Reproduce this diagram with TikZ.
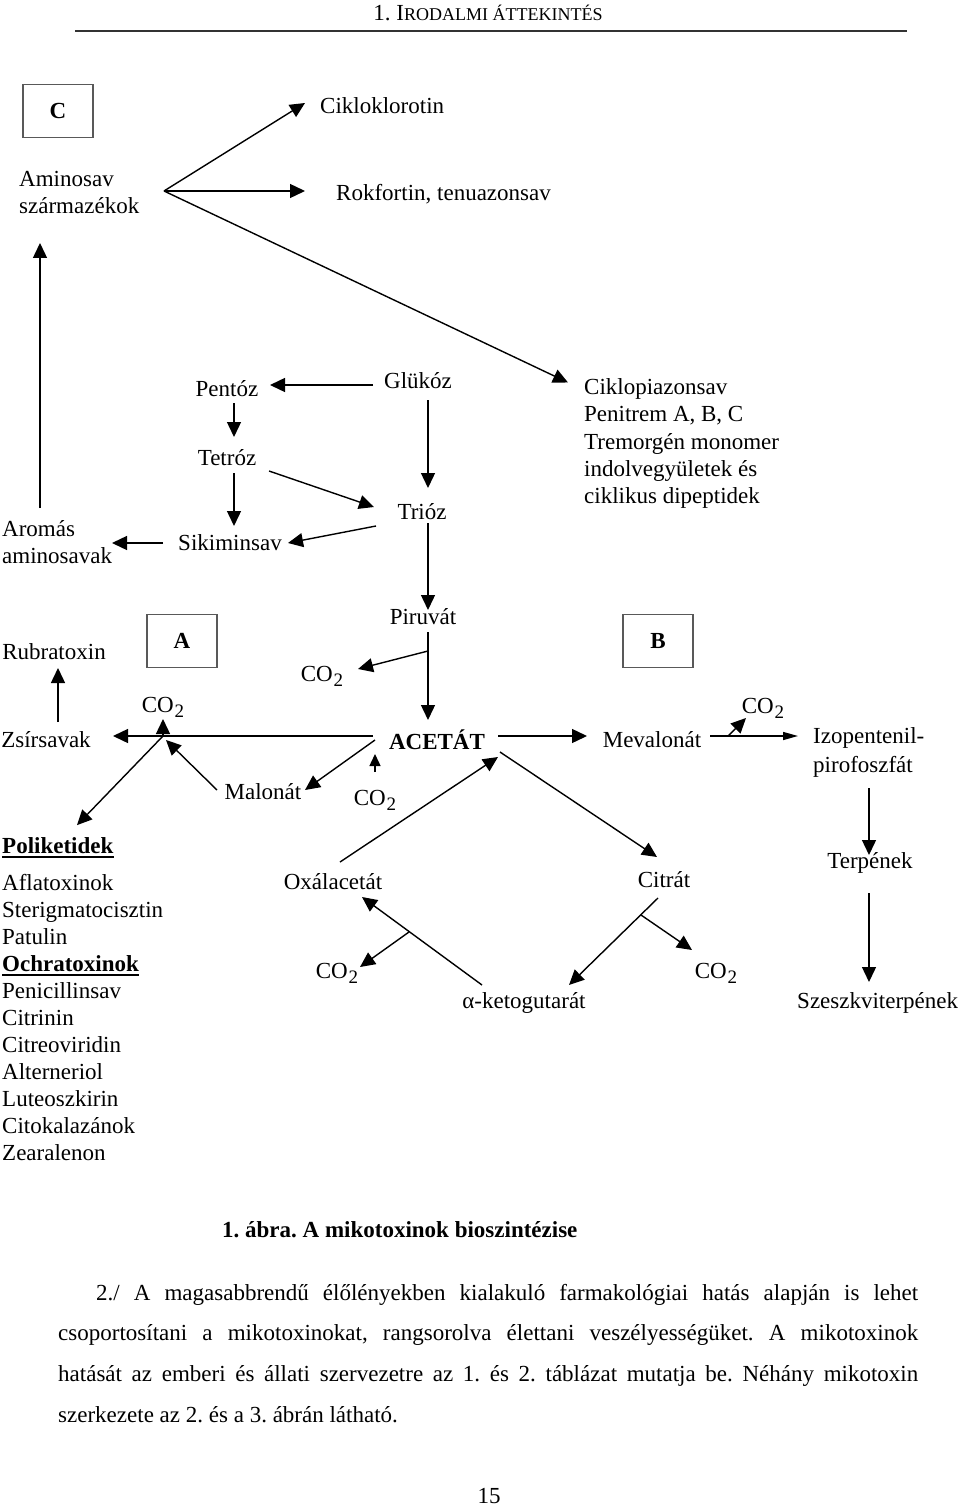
\documentclass[tikz,border=0pt]{standalone}
\usepackage{fontspec}
\setmainfont{Liberation Serif}
\usetikzlibrary{arrows.meta,calc}
\frenchspacing
\newcommand{\cotwo}{CO\kern1pt\raisebox{-5pt}{\fontsize{19}{19}\selectfont 2}}
\begin{document}
\frenchspacing
\begin{tikzpicture}[x=1pt,y=-1pt,
  font=\fontsize{23}{27}\selectfont,
  every node/.style={inner sep=0pt},
  ln/.style={line width=1.4pt},
  arr/.style={line width=1.4pt,-{Triangle[length=15pt,width=14pt]}},
  arrn/.style={line width=1.4pt,-{Triangle[length=15pt,width=8pt]}},
  arrs/.style={line width=1.4pt,-{Triangle[length=12pt,width=11pt]}},
  boxn/.style={draw=black!65,line width=1.2pt,minimum width=70pt,minimum height=53pt,font=\fontsize{23}{27}\selectfont\bfseries},
  blk/.style={align=left,anchor=west}]
\useasboundingbox (0,0) rectangle (960,1506);
% header
\node (hdr) at (488,13) {\fontsize{23}{27}\selectfont 1. I\fontsize{18}{22}\selectfont RODALMI ÁTTEKINTÉS};
\coordinate (hl) at (75,31);
\coordinate (hr) at (907,31);
\draw[line width=2pt,black!80] (hl) -- (hr);
% boxes
\node[boxn] (boxC) at (58,111) {C};
\node[boxn] (boxA) at (182,641) {A};
\node[boxn] (boxB) at (658,641) {B};
% top nodes
\node[anchor=west] (cikl) at (320,106) {Cikloklorotin};
\node[blk] (amino) at (19,192) {Aminosav\\származékok};
\node[anchor=west] (rokf) at (336,194) {Rokfortin, tenuazonsav};
\node[blk] (arom) at (2,542) {Aromás\\aminosavak};
\node (pentoz) at (227,389) {Pentóz};
\node (tetroz) at (227,458) {Tetróz};
\node (sikim) at (230,543) {Sikiminsav};
\node (glukoz) at (418,381) {Glükóz};
\node (trioz) at (422,512) {Trióz};
\node[align=left,anchor=west,font=\fontsize{23}{27.25}\selectfont] (ciklopi) at (584,443.5) {Ciklopiazonsav\\Penitrem A, B, C\\Tremorgén monomer\\indolvegyületek és\\ciklikus dipeptidek};
% middle
\node (piruvat) at (423,617) {Piruvát};
\node (rubra) at (54,652) {Rubratoxin};
\node (co2a) at (322,676) {\cotwo};
\node (zsir) at (46,740) {Zsírsavak};
\node (co2b) at (163,707) {\cotwo};
\node (acetat) at (437,740) {\bfseries ACETÁT};
\node (meval) at (652,740) {Mevalonát};
\node (co2c) at (763,708) {\cotwo};
\node[align=left,anchor=west,font=\fontsize{23}{29}\selectfont] (izo) at (813,752.5) {Izopentenil-\\pirofoszfát};
\node (malonat) at (263,792) {Malonát};
\node (co2d) at (375,800) {\cotwo};
% lower
\node[anchor=base west,font=\fontsize{23}{27}\selectfont\bfseries] (polik) at (2,853) {Poliketidek};
\draw[line width=1.8pt] ($(polik.base west)+(0,4)$) -- ($(polik.base east)+(0,4)$);
\foreach \t [count=\i] in {Aflatoxinok,Sterigmatocisztin,Patulin,Ochratoxinok,Penicillinsav,Citrinin,Citreoviridin,Alterneriol,Luteoszkirin,Citokalazánok,Zearalenon}{
  \ifnum\i=4
    \node[anchor=base west,font=\fontsize{23}{27}\selectfont\bfseries] (l\i) at (2,{890+27*(\i-1)}) {\t};
  \else
    \node[anchor=base west] (l\i) at (2,{890+27*(\i-1)}) {\t};
  \fi
}
\draw[line width=1.8pt] ($(l4.base west)+(0,4)$) -- ($(l4.base east)+(0,4)$);
\node (oxal) at (333,882) {Oxálacetát};
\node (citrat) at (664,880) {Citrát};
\node (terpen) at (870,863) {Terpének};
\node (co2e) at (337,973) {\cotwo};
\node (co2f) at (716,973) {\cotwo};
\node (aketo) at (524,1003) {α-ketogutarát};
\node[anchor=west] (szesz) at (797,1003) {Szeszkviterpének};
% caption and text
\node[anchor=west,font=\fontsize{23}{27}\selectfont\bfseries] (capt) at (222,1230) {1. ábra. A mikotoxinok bioszintézise};
\node[anchor=base west] (p1) at (96,1300) {\makebox[822pt][s]{2./ A magasabbrendű élőlényekben kialakuló farmakológiai hatás alapján is lehet}};
\node[anchor=base west] (p2) at (58,1340) {\makebox[860pt][s]{csoportosítani a mikotoxinokat, rangsorolva élettani veszélyességüket. A mikotoxinok}};
\node[anchor=base west] (p3) at (58,1381) {\makebox[860pt][s]{hatását az emberi és állati szervezetre az 1. és 2. táblázat mutatja be. Néhány mikotoxin}};
\node[anchor=base west] (p4) at (58,1422) {szerkezete az 2. és a 3. ábrán látható.};
\node (pnum) at (489,1496) {15};
% branch points
\coordinate (v1) at (164,191);
\coordinate (v2) at (163,736);
\coordinate (b1) at (428,651);
\coordinate (b2) at (728,736);
\coordinate (b3) at (641,915);
\coordinate (b4) at (409,932);
% connectors top
\draw[arr] (v1) -- ($(cikl.west)+(-15,-3)$);
\draw[arr] (v1) -- ($(rokf.west)+(-31,-3)$);
\draw[arr] (v1) -- ($(ciklopi.west)+(-16,-61)$);
\draw[arr] ($(arom.west)+(38,-34)$) -- ($(amino.west)+(21,51)$);
\draw[arr] ($(glukoz)+(-45,4)$) -- ($(pentoz)+(43,-4)$);
\draw[arr] ($(pentoz)+(7,14)$) -- ($(tetroz)+(7,-21)$);
\draw[arr] ($(tetroz)+(7,15)$) -- ($(sikim)+(4,-17)$);
\draw[arr] ($(tetroz)+(42,13)$) -- ($(trioz)+(-48,-5)$);
\draw[arr] ($(glukoz)+(10,19)$) -- ($(trioz)+(6,-24)$);
\draw[arr] ($(trioz)+(-46,14)$) -- ($(sikim)+(58,0)$);
\draw[arr] ($(sikim)+(-67,0)$) -- ($(arom.west)+(110,1)$);
\draw[arr] ($(trioz)+(6,11)$) -- ($(piruvat)+(5,-7)$);
% connectors middle
\draw[arr] ($(piruvat)+(5,15)$) -- ($(acetat)+(-9,-20)$);
\draw[arr] (b1) -- ($(co2a)+(36,-7)$);
\draw[arr] ($(acetat)+(-64,-4)$) -- ($(zsir)+(67,-4)$);
\draw[arr] (v2) -- ($(co2b)+(0,12)$);
\draw[arr] ($(malonat)+(-46,-2)$) -- ($(v2)+(3,4)$);
\draw[arr] (v2) -- ($(polik.west)+(75,-20)$);
\draw[arr] ($(acetat)+(-62,0)$) -- ($(malonat)+(42,-2)$);
\draw[arrs] ($(co2d)+(0,-28)$) -- ($(co2d)+(0,-46)$);
\draw[arr] ($(zsir)+(12,-18)$) -- ($(rubra)+(4,16)$);
\draw[arr] ($(acetat)+(61,-4)$) -- ($(meval)+(-65,-4)$);
\draw[arr] ($(oxal)+(7,-20)$) -- ($(acetat)+(61,17)$);
\draw[arr] ($(acetat)+(63,12)$) -- ($(citrat)+(-7,-23)$);
\draw[arrn] ($(meval)+(58,-4)$) -- ($(izo.west)+(-15,-16.5)$);
\draw[arr] (b2) -- ($(co2c)+(-17,10)$);
\draw[arr] ($(izo.west)+(56,35.5)$) -- ($(terpen)+(-1,-8)$);
\draw[arr] ($(terpen)+(-1,30)$) -- ($(szesz.west)+(72,-21)$);
% connectors lower
\draw[arr] ($(citrat)+(-6,18)$) -- ($(aketo)+(45,-18)$);
\draw[arr] (b3) -- ($(co2f)+(-24,-23)$);
\draw[arr] ($(aketo)+(-42,-18)$) -- ($(oxal)+(29,15)$);
\draw[arr] (b4) -- ($(co2e)+(23,-6)$);
\end{tikzpicture}
\end{document}
